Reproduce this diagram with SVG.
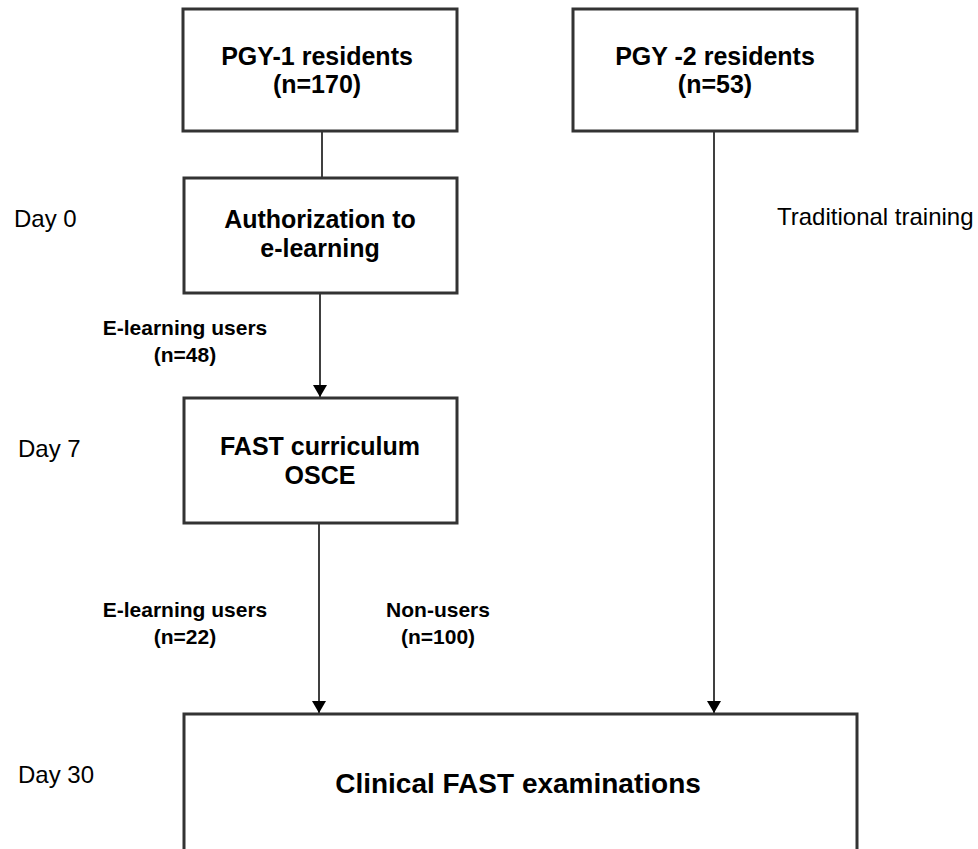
<svg xmlns="http://www.w3.org/2000/svg" width="978" height="849" viewBox="0 0 978 849">
<defs>
<marker id="arr" markerUnits="userSpaceOnUse" markerWidth="12" markerHeight="14" viewBox="0 0 12 14" refX="12" refY="7" orient="auto">
<path d="M0,0 L12,7 L0,14 Z" fill="#000"/>
</marker>
</defs>
<style>
.box{fill:#fff;stroke:#333;stroke-width:3}
.bt{font-family:"Liberation Sans",Arial,sans-serif;font-weight:bold;font-size:25px;fill:#000;text-anchor:middle}
.big{font-size:28px}
.lt{font-family:"Liberation Sans",Arial,sans-serif;font-weight:bold;font-size:21px;fill:#000;text-anchor:middle}
.dt{font-family:"Liberation Sans",Arial,sans-serif;font-size:24px;fill:#000}
.c{stroke:#000;stroke-width:1.5;fill:none}
</style>
<rect width="978" height="849" fill="#fff"/>
<g id="connectors">
<line class="c" x1="322" y1="131" x2="322" y2="178"/>
<line class="c" x1="320" y1="293" x2="320" y2="397" marker-end="url(#arr)"/>
<line class="c" x1="319" y1="523" x2="319" y2="713" marker-end="url(#arr)"/>
<line class="c" x1="714" y1="131" x2="714" y2="713" marker-end="url(#arr)"/>
</g>
<g id="pgy1">
<rect class="box" x="183" y="9" width="274" height="122"/>
<text class="bt" x="317" y="65">PGY-1 residents</text>
<text class="bt" x="317" y="93">(n=170)</text>
</g>
<g id="pgy2">
<rect class="box" x="573" y="9" width="284" height="122"/>
<text class="bt" x="715" y="65">PGY -2 residents</text>
<text class="bt" x="715" y="93">(n=53)</text>
</g>
<g id="auth">
<rect class="box" x="184" y="178" width="273" height="115"/>
<text class="bt" x="320" y="228">Authorization to</text>
<text class="bt" x="320" y="257">e-learning</text>
</g>
<g id="fast">
<rect class="box" x="184" y="398" width="273" height="125"/>
<text class="bt" x="320" y="455">FAST curriculum</text>
<text class="bt" x="320" y="484">OSCE</text>
</g>
<g id="clinical">
<rect class="box" x="184" y="714" width="673" height="160"/>
<text class="bt big" x="518" y="793">Clinical FAST examinations</text>
</g>
<g id="labels">
<text class="lt" x="185" y="335">E-learning users</text>
<text class="lt" x="185" y="362">(n=48)</text>
<text class="lt" x="185" y="617">E-learning users</text>
<text class="lt" x="185" y="644">(n=22)</text>
<text class="lt" x="438" y="617">Non-users</text>
<text class="lt" x="438" y="644">(n=100)</text>
<text class="dt" x="14" y="227">Day 0</text>
<text class="dt" x="18" y="457">Day 7</text>
<text class="dt" x="18" y="783">Day 30</text>
<text class="dt" x="777" y="225">Traditional training</text>
</g>
</svg>
